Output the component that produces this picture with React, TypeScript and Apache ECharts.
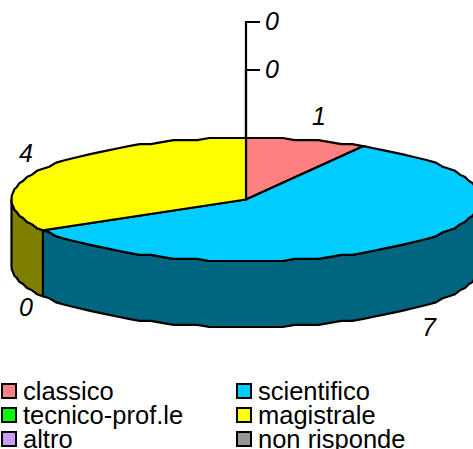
import React, { useEffect, useRef } from "react";
import * as echarts from "echarts";

const categories = ["classico", "scientifico", "tecnico-prof.le", "magistrale", "altro", "non risponde"];
const values = [1, 7, 0, 4, 0, 0];
const topColors = ["#FF8080", "#00CCFF", "#00FF00", "#FFFF00", "#CC99FF", "#969696"];
const wallColors = ["#804040", "#006680", "#008000", "#808000", "#664C80", "#4B4B4B"];

// Drawing layout (not data)
const CX = 246, CY = 199.5, RX = 234.5, RY = 61.5, DEPTH = 66;
const labelPos = [[319, 116], [429, 327], [26, 307], [26, 153], [272, 69], [272, 21]];
const leaderY: (number | null)[] = [null, null, null, null, 70, 22];
const total = values.reduce((a, b) => a + b, 0);

const GRID = 61.5 / 30;
const q = (v: number) => Math.round(v / GRID) * GRID;
const rimPoint = (deg: number): [number, number] => {
  const a = (deg * Math.PI) / 180;
  const x = CX + RX * Math.sin(a);
  const y = CY - RY * Math.cos(a);
  return [x, q(y - CY) + CY];
};
const arcPoints = (from: number, to: number) => {
  const pts: [number, number][] = [];
  const n = Math.max(1, Math.round((to - from) / 3));
  for (let i = 0; i <= n; i++) {
    const d = from + ((to - from) * i) / n;
    if (i === 0 || i === n) {
      const a = (d * Math.PI) / 180;
      pts.push([CX + RX * Math.sin(a), CY - RY * Math.cos(a)]);
    } else pts.push(rimPoint(d));
  }
  return pts;
};

const makeRender = (idx: number) => (_params: any, _api: any) => {
  const before = values.slice(0, idx).reduce((a, b) => a + b, 0);
  const start = (before / total) * 360;
  const end = ((before + values[idx]) / total) * 360;
  const children: any[] = [];
  const stroke = { stroke: "#000", lineWidth: 2.2, lineJoin: "miter" as const };

  if (values[idx] > 0) {
    const wFrom = Math.max(start, 90);
    const wTo = Math.min(end, 270);
    if (wTo > wFrom) {
      const up = arcPoints(wFrom, wTo);
      const down = up.map(([x, y]) => [x, y + DEPTH]).reverse();
      children.push({
        type: "polygon",
        shape: { points: [...up, ...down] },
        style: { fill: wallColors[idx], ...stroke },
      });
    }
    children.push({
      type: "polygon",
      shape: { points: [[CX, CY], ...arcPoints(start, end)] },
      style: { fill: topColors[idx], ...stroke },
    });
  }
  const ly = leaderY[idx];
  if (ly !== null) {
    children.push({
      type: "polyline",
      shape: { points: [[CX, CY - RY], [CX, ly], [CX + 14, ly]] },
      style: { fill: "none", ...stroke },
    });
  }
  children.push({
    type: "text",
    x: labelPos[idx][0],
    y: labelPos[idx][1],
    style: {
      text: String(values[idx]),
      fill: "#000",
      font: "italic 25px 'Liberation Sans'",
      align: "center",
      verticalAlign: "middle",
    },
  });
  return { type: "group", children };
};

const legendStyle = {
  orient: "vertical" as const,
  height: 120,
  itemWidth: 14,
  itemHeight: 14,
  itemGap: -2,
  padding: 0,
  icon: "rect",
  itemStyle: { borderColor: "#000", borderWidth: 2 },
  textStyle: {
    fontFamily: "Liberation Sans",
    fontSize: 25.5,
    color: "#000",
    lineHeight: 24,
    padding: [0, 0, 0, 2],
  },
};

export default function App() {
  const ref = useRef<HTMLDivElement>(null);
  useEffect(() => {
    document.body.style.margin = "0";
    const chart = echarts.init(ref.current!, undefined, { renderer: "svg" });
    chart.setOption({
      animation: false,
      backgroundColor: "#fff",
      legend: [
        { ...legendStyle, left: 1, top: 378, data: categories.filter((_, i) => i % 2 === 0) },
        { ...legendStyle, left: 236, top: 378, data: categories.filter((_, i) => i % 2 === 1) },
      ],
      series: categories.map((name, i) => ({
        type: "custom",
        name,
        coordinateSystem: "none",
        silent: true,
        itemStyle: { color: topColors[i] },
        data: [[values[i]]],
        renderItem: makeRender(i),
      })),
    });
    return () => chart.dispose();
  }, []);
  return <div ref={ref} style={{ width: 473, height: 449 }} />;
}
